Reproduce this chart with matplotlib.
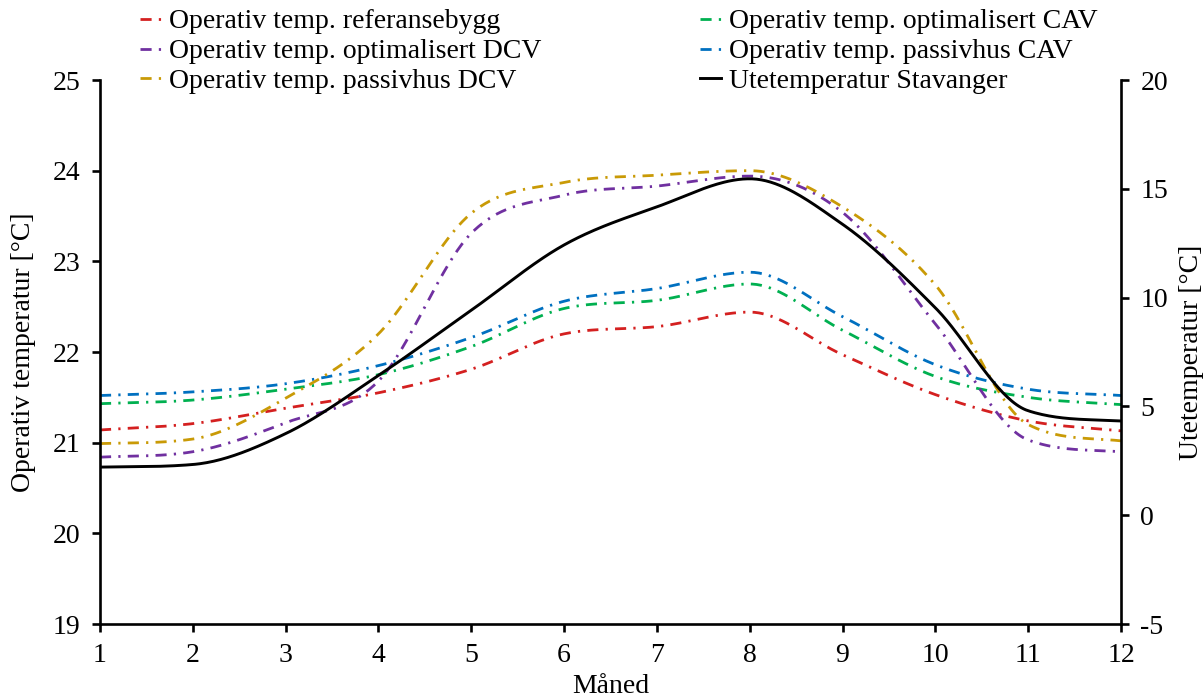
import numpy as np
import matplotlib
matplotlib.use("Agg")
import matplotlib.pyplot as plt
from matplotlib.lines import Line2D

plt.rcParams['font.family'] = ['Liberation Serif', 'DejaVu Serif']
plt.rcParams['font.size'] = 20
plt.rcParams['axes.unicode_minus'] = False

# Monthly data
months = [1, 2, 3, 4, 5, 6, 7, 8, 9, 10, 11, 12]
referansebygg = [21.14, 21.21, 21.38, 21.55, 21.81, 22.20, 22.28, 22.44, 21.97, 21.53, 21.24, 21.13]
optimalisert_cav = [21.43, 21.47, 21.59, 21.75, 22.06, 22.48, 22.57, 22.75, 22.24, 21.73, 21.50, 21.42]
passivhus_cav = [21.52, 21.56, 21.65, 21.85, 22.16, 22.56, 22.70, 22.88, 22.39, 21.86, 21.59, 21.52]
optimalisert_dcv = [20.84, 20.90, 21.22, 21.68, 23.31, 23.73, 23.83, 23.94, 23.54, 22.31, 21.03, 20.90]
passivhus_dcv = [20.99, 21.04, 21.49, 22.20, 23.53, 23.87, 23.95, 24.00, 23.60, 22.74, 21.20, 21.02]
utetemperatur = [2.21, 2.33, 3.75, 6.42, 9.42, 12.42, 14.17, 15.46, 13.37, 9.53, 4.80, 4.33]

labels = [
    "Operativ temp. referansebygg",
    "Operativ temp. optimalisert CAV",
    "Operativ temp. optimalisert DCV",
    "Operativ temp. passivhus CAV",
    "Operativ temp. passivhus DCV",
    "Utetemperatur Stavanger",
]
colors = {
    "ref": "#D42020",
    "ocav": "#00B050",
    "odcv": "#7030A0",
    "pcav": "#0070C0",
    "pdcv": "#C99A06",
}


def smooth(x, y, n=40):
    """Monotone cubic Hermite curve through the points (Fritsch-Carlson)."""
    x = np.asarray(x, float)
    y = np.asarray(y, float)
    h = np.diff(x)
    d = np.diff(y) / h
    m = np.empty_like(y)
    m[1:-1] = (d[:-1] + d[1:]) / 2
    m[0] = d[0]
    m[-1] = d[-1]
    for k in range(len(d)):
        if d[k] == 0:
            m[k] = m[k + 1] = 0
            continue
        if k > 0 and np.sign(d[k]) != np.sign(d[k - 1]):
            m[k] = 0
    for k in range(len(d)):
        if d[k] == 0:
            continue
        a = m[k] / d[k]
        b = m[k + 1] / d[k]
        if a < 0:
            m[k] = 0
            a = 0
        if b < 0:
            m[k + 1] = 0
            b = 0
        s = a * a + b * b
        if s > 9:
            tau = 3 / np.sqrt(s)
            m[k] = tau * a * d[k]
            m[k + 1] = tau * b * d[k]
    xs, ys = [], []
    t = np.linspace(0, 1, n, endpoint=False)
    for k in range(len(d)):
        h00 = 2 * t ** 3 - 3 * t ** 2 + 1
        h10 = t ** 3 - 2 * t ** 2 + t
        h01 = -2 * t ** 3 + 3 * t ** 2
        h11 = t ** 3 - t ** 2
        xs.append(x[k] + t * h[k])
        ys.append(h00 * y[k] + h10 * h[k] * m[k] + h01 * y[k + 1] + h11 * h[k] * m[k + 1])
    xs.append([x[-1]])
    ys.append([y[-1]])
    return np.concatenate(xs), np.concatenate(ys)


fig = plt.figure(figsize=(12.04, 6.98), dpi=100)
ax = fig.add_axes([100 / 1204, 74 / 698, 1021 / 1204, 544 / 698])
ax2 = ax.twinx()

dash = (0, (4, 2.6, 0.8, 2.6))
lw = 2.0
series = [
    (referansebygg, colors["ref"]),
    (optimalisert_cav, colors["ocav"]),
    (optimalisert_dcv, colors["odcv"]),
    (passivhus_cav, colors["pcav"]),
    (passivhus_dcv, colors["pdcv"]),
]
handles = []
for vals, c in series:
    sx, sy = smooth(months, vals)
    ax.plot(sx, sy, color=c, lw=lw, linestyle=dash)
    handles.append(Line2D([], [], color=c, lw=lw, linestyle=dash))

ux, uy = smooth(months, utetemperatur)
ax2.plot(ux, uy, color="black", lw=2.1)
handles.append(Line2D([], [], color="black", lw=2.1))

ax.set_xlim(1, 12)
ax.set_ylim(19, 25)
ax2.set_ylim(-5, 20)
ax.set_xticks(months)
ax.set_yticks([19, 20, 21, 22, 23, 24, 25])
ax2.set_yticks([-5, 0, 5, 10, 15, 20])

for a in (ax, ax2):
    a.spines['top'].set_visible(False)
    for s in a.spines.values():
        s.set_linewidth(1.9)
    a.tick_params(direction='out', length=6, width=1.9, pad=8, labelsize=20)
ax.spines['right'].set_visible(False)
ax2.spines['left'].set_visible(False)
ax2.spines['bottom'].set_visible(False)

ax.set_ylabel("Operativ temperatur [°C]", fontsize=20)
ax2.set_ylabel("Utetemperatur [°C]", fontsize=20)
ax.set_xlabel("Måned", fontsize=20)
ax.yaxis.set_label_coords(-0.063, 0.5)
ax2.yaxis.set_label_coords(1.0565, 0.5)
ax.xaxis.set_label_coords(0.5, -0.092)

legend_kw = dict(frameon=False, fontsize=20, handlelength=0.75, handletextpad=0.3,
                 labelspacing=0.16, borderpad=0, borderaxespad=0, loc='upper left')
left_idx = [0, 2, 4]
right_idx = [1, 3, 5]
leg1 = fig.legend([handles[i] for i in left_idx], [labels[i] for i in left_idx],
                  bbox_to_anchor=(140 / 1204, 1 - 9 / 698), **legend_kw)
leg2 = fig.legend([handles[i] for i in right_idx], [labels[i] for i in right_idx],
                  bbox_to_anchor=(700 / 1204, 1 - 9 / 698), **legend_kw)

fig.savefig("out.png", dpi=100)
